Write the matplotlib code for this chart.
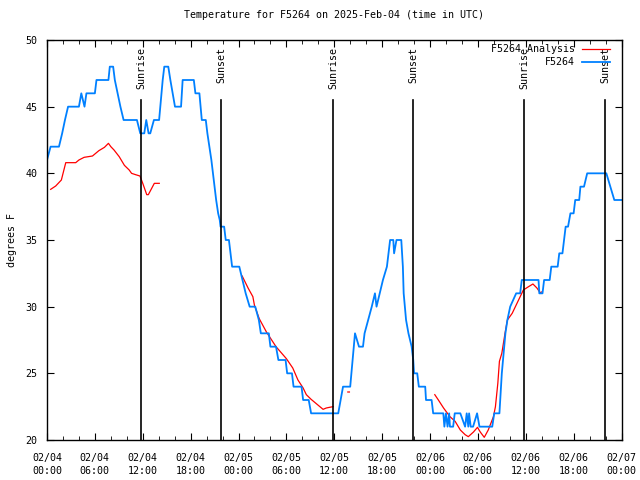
import numpy as np
import matplotlib
matplotlib.use("Agg")
import matplotlib.pyplot as plt
from matplotlib.ticker import MultipleLocator

# hours since 2025-02-04 00:00 UTC
obsHours = [0.0, 0.45, 1.5, 1.9, 2.25, 2.64, 4.0, 4.3, 4.7, 4.94, 6.0, 6.2, 7.7, 7.87, 8.29,
            8.5, 8.85, 9.2, 9.6, 11.27, 11.69, 12.19, 12.44, 12.73, 12.94, 13.4, 14.05, 14.2,
            14.35, 14.5, 14.7, 15.2, 15.46, 15.75, 16.04, 16.8, 17.0, 18.4, 18.6, 19.1, 19.4,
            19.9, 20.1, 20.35, 20.6, 20.8, 21.0, 21.2, 21.45, 21.65, 21.75, 22.2, 22.4, 22.8,
            23.0, 23.2, 24.1, 24.5, 24.9, 25.4, 26.1, 26.55, 26.8, 27.8, 28.0, 28.7, 29.0,
            29.9, 30.1, 30.7, 30.9, 31.9, 32.1, 32.8, 33.1, 36.5, 37.1, 38.0, 38.3, 38.6,
            39.1, 39.6, 39.8, 40.25, 40.7, 41.1, 41.3, 41.7, 42.1, 42.6, 42.8, 43.0, 43.4,
            43.5, 43.8, 44.4, 44.6, 44.7, 45.0, 45.3, 45.7, 45.9, 46.0, 46.4, 46.6, 47.4,
            47.5, 48.2, 48.4, 49.67, 49.8, 50.0, 50.2, 50.4, 50.5, 50.9, 51.1, 51.8, 52.4,
            52.6, 52.8, 52.9, 53.1, 53.4, 53.9, 54.2, 55.8, 56.05, 56.7, 56.9, 57.0, 57.15,
            57.3, 57.45, 57.7, 58.05, 58.8, 59.3, 59.5, 61.6, 61.7, 62.1, 62.3, 63.0, 63.2,
            64.0, 64.2, 64.6, 64.8, 65.0, 65.3, 65.6, 66.0, 66.2, 66.7, 66.85, 67.3, 67.7,
            70.1, 71.1, 72.0]
obsTemp = [41, 42, 42, 43, 44, 45, 45, 46, 45, 46, 46, 47, 47, 48, 48,
           47, 46, 45, 44, 44, 43, 43, 44, 43, 43, 44, 44, 45,
           46, 47, 48, 48, 47, 46, 45, 45, 47, 47, 46, 46, 44,
           44, 43, 42, 41, 40, 39, 38, 37, 36.5, 36, 36, 35, 35,
           34, 33, 33, 32, 31, 30, 30, 29, 28, 28, 27, 27, 26,
           26, 25, 25, 24, 24, 23, 23, 22, 22, 24, 24, 26, 28,
           27, 27, 28, 29, 30, 31, 30, 31, 32, 33, 34, 35, 35,
           34, 35, 35, 33, 31, 29, 28, 27, 26, 25, 25, 24, 24,
           23, 23, 22, 22, 21, 22, 21, 22, 21, 21, 22, 22, 21,
           22, 21, 22, 21, 21, 22, 21, 21, 22, 22, 24, 25, 26,
           27, 28, 29, 30, 31, 31, 32, 32, 31, 31, 32, 32, 33,
           33, 34, 34, 35, 36, 36, 37, 37, 38, 38, 39, 39, 40,
           40, 38, 38]

anaHours = [0.46, 1.09, 1.8, 2.35, 3.6, 4.0, 4.65, 5.7, 6.5, 7.2, 7.7, 8.0, 8.4, 9.05, 9.7,
            10.3, 10.6, 11.1, 11.65, 12.0, 12.5, 12.7, 13.45, 14.07, np.nan,
            24.46, 25.2, 25.8, 26.0, 26.6, 27.5, 28.7, 30.0, 30.8, 31.45, 32.1, 32.5, 33.1,
            33.8, 34.6, 35.0, 35.4, 35.85, np.nan,
            37.7, 37.9, np.nan,
            48.6, 49.05, 49.7, 50.5, 51.15, 51.8, 52.4, 52.8, 53.45, 53.95, 54.3, 54.8, 55.3,
            55.95, 56.2, 56.5, 56.7, 57.0, 57.4, 57.7, 58.3, 58.7, 59.1, 59.7, 60.35, 60.9,
            61.4, 61.8, 62.0]
anaTemp = [38.8, 39.05, 39.5, 40.8, 40.8, 41.0, 41.2, 41.3, 41.7, 41.95, 42.25, 42.0, 41.75,
           41.25, 40.6, 40.25, 40.0, 39.9, 39.8, 39.25, 38.4, 38.4, 39.25, 39.25, np.nan,
           32.3, 31.4, 30.75, 30.1, 29.1, 28.1, 27.0, 26.1, 25.4, 24.5, 23.9, 23.4, 23.05,
           22.7, 22.3, 22.4, 22.45, 22.5, np.nan,
           23.6, 23.6, np.nan,
           23.4, 23.0, 22.4, 21.75, 21.4, 20.75, 20.4, 20.25, 20.6, 20.95, 20.6, 20.2, 20.75,
           21.75, 22.5, 24.25, 25.9, 26.5, 28.0, 29.0, 29.5, 30.0, 30.5, 31.25, 31.5, 31.7,
           31.4, 31.05, 31.1]

sunHours = [11.78, 21.8, 35.84, 45.86, 59.77, 69.92]
sunNames = ["Sunrise", "Sunset", "Sunrise", "Sunset", "Sunrise", "Sunset"]

tickHours = [0, 6, 12, 18, 24, 30, 36, 42, 48, 54, 60, 66, 72]
tickLabels = ["02/04\n00:00", "02/04\n06:00", "02/04\n12:00", "02/04\n18:00",
              "02/05\n00:00", "02/05\n06:00", "02/05\n12:00", "02/05\n18:00",
              "02/06\n00:00", "02/06\n06:00", "02/06\n12:00", "02/06\n18:00",
              "02/07\n00:00"]

plt.rcParams['font.family'] = ['DejaVu Sans Mono']
plt.rcParams['font.size'] = 7.2

fig = plt.figure(figsize=(6.4, 4.8), dpi=100)
ax = fig.add_axes([47 / 640, 40 / 480, 574.5 / 640, 400 / 480])

ax.plot(anaHours, anaTemp, color="#ff0000", lw=0.9, label="F5264 Analysis")
ax.plot(obsHours, obsTemp, color="#0080ff", lw=1.3, label="F5264")

for h, name in zip(sunHours, sunNames):
    ax.plot([h, h], [20, 45.5], color="black", lw=1.2)
    ax.text(h, 49.5, name, rotation=90, ha="center", va="top")

ax.set_xlim(0, 72)
ax.set_ylim(20, 50)
ax.set_xticks(tickHours)
ax.set_xticklabels(tickLabels, linespacing=1.45)
ax.xaxis.set_minor_locator(MultipleLocator(2))
ax.set_yticks(range(20, 51, 5))
ax.tick_params(which="both", direction="in", top=True, right=True)
ax.tick_params(axis="x", pad=9)
ax.tick_params(axis="y", pad=7)
ax.tick_params(which="major", length=5)
ax.tick_params(which="minor", length=3)
for s in ax.spines.values():
    s.set_linewidth(1.0)

ax.set_ylabel("degrees F", labelpad=6)
ax.set_title("Temperature for F5264 on 2025-Feb-04 (time in UTC)", fontsize=7.2, pad=16)

ax.legend(loc="upper right", bbox_to_anchor=(0.98, 0.989), frameon=False, markerfirst=False,
          fontsize=7.2, handlelength=2.8, borderaxespad=0, borderpad=0, labelspacing=0.3,
          handletextpad=0.7)

fig.savefig("out.png", dpi=100)
